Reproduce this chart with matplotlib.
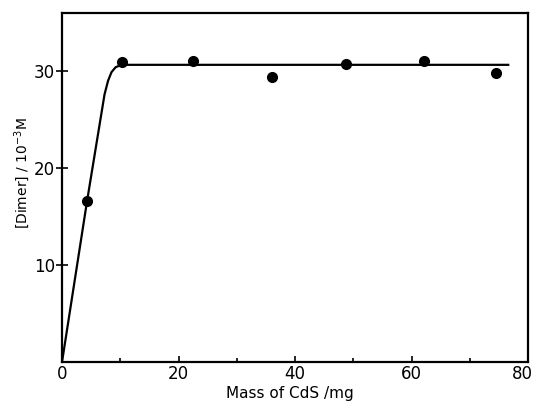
import matplotlib
matplotlib.use("Agg")
import matplotlib.pyplot as plt
from matplotlib.transforms import ScaledTranslation

# measured points
mass = [4.3, 10.3, 22.5, 36.1, 48.7, 62.1, 74.5]
dimer = [16.6, 30.9, 31.0, 29.4, 30.7, 31.0, 29.8]

# fitted curve
curve_x = [0, 4.3, 7.3, 7.9, 8.5, 9.2, 10.0, 11.0, 76.6]
curve_y = [0, 16.6, 27.6, 29.0, 29.9, 30.4, 30.6, 30.65, 30.65]

plt.rcParams['font.family'] = ['DejaVu Sans']

fig = plt.figure(figsize=(5.36, 4.05), dpi=100)
ax = fig.add_axes([0.1157, 0.1062, 0.8694, 0.8618])

ax.plot(curve_x, curve_y, color='black', lw=1.6)
ax.plot(mass, dimer, 'o', color='black', ms=7)

ax.set_xlim(0, 80)
ax.set_ylim(0, 36)
ax.set_xticks([0, 20, 40, 60, 80])
ax.set_xticks([10, 30, 50, 70], minor=True)
ax.set_yticks([10, 20, 30])
ax.tick_params(axis='x', which='major', direction='in', length=4, width=1.2, labelsize=12, pad=2)
ax.tick_params(axis='x', which='minor', direction='in', length=3, width=1.2)
ax.tick_params(axis='y', direction='inout', length=8, width=1.2, labelsize=12, pad=1)
for s in ax.spines.values():
    s.set_linewidth(1.6)

# keep the last label inside the figure
last = ax.get_xticklabels()[-1]
last.set_transform(last.get_transform() + ScaledTranslation(-4 / 72, 0, fig.dpi_scale_trans))

ax.set_xlabel('Mass of CdS /mg', fontsize=11)
ax.set_ylabel('[Dimer] / 10$^{-3}$M', fontsize=10)
ax.xaxis.set_label_coords(0.49, -0.07)
ax.yaxis.set_label_coords(-0.065, 0.54)

fig.savefig('out.png', dpi=100)
